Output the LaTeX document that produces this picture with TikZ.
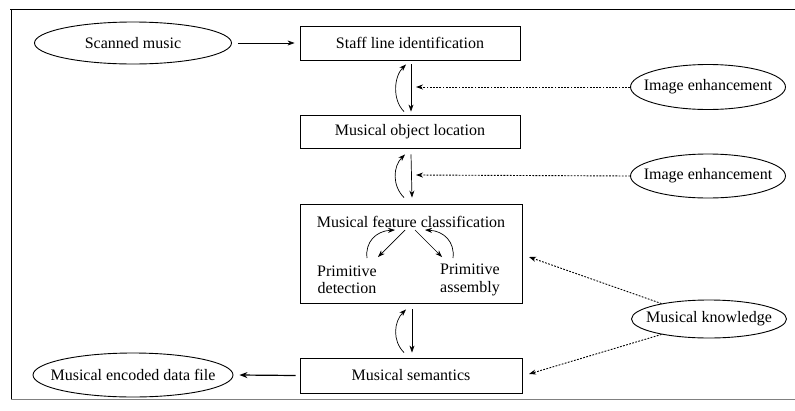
\documentclass[tikz,border=0pt]{standalone}
\usepackage{fontspec}
\setmainfont{Liberation Serif}
\usetikzlibrary{shapes.geometric,arrows.meta}
\begin{document}
\begin{tikzpicture}[x=1pt,y=-1pt,
  font=\fontsize{16}{17.5}\selectfont,
  boxn/.style={draw,line width=0.9pt,rectangle,inner sep=0pt},
  ell/.style={draw,line width=0.9pt,ellipse,inner sep=0pt},
  arr/.style={line width=0.7pt,-{Stealth[length=7pt,width=5pt]}},
  dotarr/.style={line width=0.9pt,dash pattern=on 1.8pt off 1.4pt,-{Stealth[length=7pt,width=5pt]}},
  thickarr/.style={line width=1.2pt,-{Stealth[length=8pt,width=6pt]}}]
\useasboundingbox (0,0) rectangle (795,410);
% frame
\draw[line width=1pt] (10,9) -- (795,9);
\draw[line width=0.8pt] (11,9) -- (11,400);
\draw[line width=0.6pt,gray] (11,399) -- (795,399);
% ellipses (shape) and their texts
\node[ell,minimum width=197pt,minimum height=42pt] (scan) at (133,43) {};
\node (scant) at (scan) {Scanned music};
\node[ell,minimum width=200pt,minimum height=44pt] (enc) at (133,375) {};
\node (enct) at (enc) {Musical encoded data file};
\node[ell,minimum width=155pt,minimum height=45pt] (ie1) at (708,87) {};
\node (ie1t) at (ie1) {Image enhancement};
\node[ell,minimum width=155pt,minimum height=44pt] (ie2) at (708,176) {};
\node (ie2t) at (ie2) {Image enhancement};
\node[ell,minimum width=155pt,minimum height=38pt] (know) at (709,319) {};
\node (knowt) at (know) {Musical knowledge};
% boxes
\node[boxn,minimum width=220pt,minimum height=34pt] (staff) at (410,43) {Staff line identification};
\node[boxn,minimum width=220pt,minimum height=33pt] (obj) at (410,131.5) {Musical object location};
\node[boxn,minimum width=222pt,minimum height=99pt] (feat) at (411,253.5) {};
\node (ftitle) at (411,222) {Musical feature classification};
\node[align=center,inner sep=0pt] (pd) at (347,280) {Primitive\\detection};
\node[align=center,inner sep=0pt] (pa) at (470,280) {Primitive\\assembly};
\node[boxn,minimum width=222pt,minimum height=35pt] (sem) at (411,375.5) {Musical semantics};
% coordinates
\coordinate (t1) at (416,87);
\coordinate (t2) at (416,175);
\coordinate (k1) at (529,257);
\coordinate (k2) at (529,374);
\coordinate (fa) at (405,230);
\coordinate (fb) at (378,257);
\coordinate (fc) at (367,258);
\coordinate (fd) at (395,230);
\coordinate (fe) at (415,230);
\coordinate (ff) at (442,257);
\coordinate (fg) at (453,258);
\coordinate (fh) at (425,230);
% main flow
\draw[arr] ([xshift=6pt]scan.east) -- ([xshift=-5pt]staff.west);
\draw[arr] ([shift={(1,4)}]staff.south) -- ([shift={(1,-3)}]obj.north);
\draw[arr] ([shift={(-6,-3)}]obj.north) .. controls +(-12,-12) and +(-12,12) .. ([shift={(-4,4)}]staff.south);
\draw[arr] ([shift={(1,6)}]obj.south) -- ([shift={(1,-6)}]feat.north);
\draw[arr] ([shift={(-7,-6)}]feat.north) .. controls +(-12,-12) and +(-12,12) .. ([shift={(-5,6)}]obj.south);
\draw[arr] ([shift={(1,6)}]feat.south) -- ([shift={(1,-5)}]sem.north);
\draw[arr] ([shift={(-7,-5)}]sem.north) .. controls +(-12,-12) and +(-12,12) .. ([shift={(-5,6)}]feat.south);
\draw[thickarr] ([xshift=-4pt]sem.west) -- ([xshift=6pt]enc.east);
% dotted inputs
\draw[dotarr] (ie1.west) -- (t1);
\draw[dotarr] (ie2.west) -- (t2);
\draw[dotarr] (know.162) -- (k1);
\draw[dotarr] (know.198) -- (k2);
% internal arrows
\draw[arr] (fa) -- (fb);
\draw[arr] (fc) .. controls (365,242) and (376,231) .. (fd);
\draw[arr] (fe) -- (ff);
\draw[arr] (fg) .. controls (455,242) and (444,231) .. (fh);
\end{tikzpicture}
\end{document}
